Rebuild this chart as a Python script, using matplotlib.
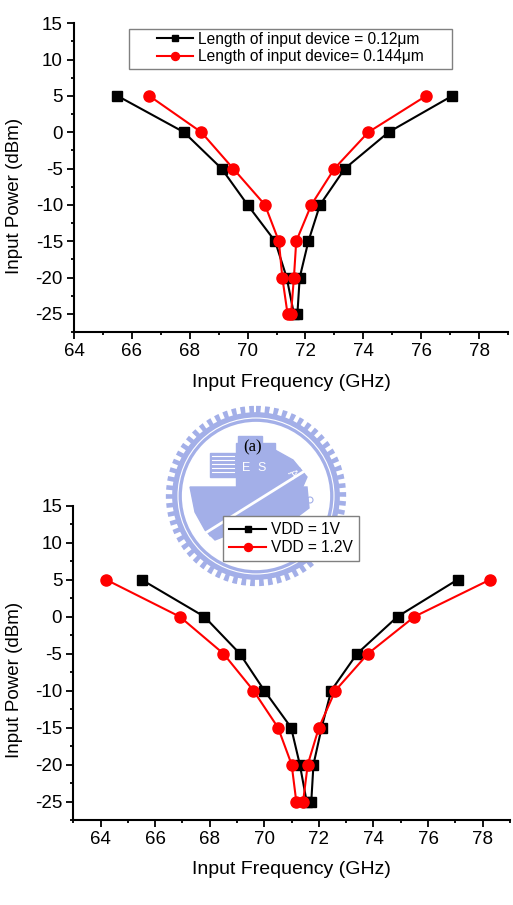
import matplotlib.pyplot as plt
import matplotlib.patches as mpatches
from matplotlib.ticker import MultipleLocator

plt.rcParams['font.family'] = ['Liberation Sans', 'DejaVu Sans']
plt.rcParams['axes.unicode_minus'] = False

# input power sweep (dBm), down one side of the V and back up the other
power = [5, 0, -5, -10, -15, -20, -25, -25, -20, -15, -10, -5, 0, 5]

# (a) input device length
freq_len_012 = [65.5, 67.8, 69.1, 70.0, 70.95, 71.35, 71.6, 71.72, 71.8, 72.1, 72.5, 73.36, 74.87, 77.07]
freq_len_0144 = [66.6, 68.4, 69.5, 70.6, 71.08, 71.2, 71.38, 71.5, 71.6, 71.68, 72.2, 73.0, 74.17, 76.17]
labels_len = ['Length of input device = 0.12\u03bcm', 'Length of input device= 0.144\u03bcm']

# (b) supply voltage
freq_vdd_1 = [65.5, 67.8, 69.1, 70.0, 70.98, 71.3, 71.55, 71.72, 71.8, 72.1, 72.45, 73.4, 74.88, 77.08]
freq_vdd_12 = [64.2, 66.9, 68.5, 69.6, 70.5, 71.0, 71.17, 71.42, 71.59, 72.0, 72.6, 73.8, 75.5, 78.27]
labels_vdd = ['VDD = 1V', 'VDD = 1.2V']

logo_blue = '#a3afe8'

fig = plt.figure(figsize=(5.13, 9.05), dpi=100)

# faint logo watermark between the panels (pixel coords)
bg = fig.add_axes([0, 0, 1, 1], zorder=0)
bg.set_xlim(0, 513)
bg.set_ylim(905, 0)
bg.axis('off')
cx, cy = 256, 496
bg.add_patch(mpatches.Circle((cx, cy), 86, fill=False, lw=6, color=logo_blue,
                             linestyle=(0, (0.55, 0.5))))
bg.add_patch(mpatches.Circle((cx, cy), 79, fill=False, lw=7, color=logo_blue))
bg.add_patch(mpatches.Circle((cx, cy), 78, fill=False, lw=0.8, color='white'))
bg.add_patch(mpatches.Rectangle((210, 453), 26, 24, color=logo_blue))
for yy in range(456, 476, 4):
    bg.plot([212, 234], [yy, yy], color='white', lw=0.8)
bg.add_patch(mpatches.Rectangle((236, 443), 39, 44, color=logo_blue))
bg.add_patch(mpatches.Rectangle((238, 436), 24, 10, color=logo_blue))
bg.add_patch(mpatches.Polygon([(275, 450), (293, 460), (307, 477), (297, 500), (275, 500)],
                              color=logo_blue))
bg.add_patch(mpatches.Polygon([(190, 487), (307, 487), (309, 508), (293, 520), (250, 526),
                               (215, 540), (205, 530), (195, 512)], color=logo_blue))
bg.plot([207, 303], [532, 472], color=logo_blue, lw=8, solid_capstyle='butt')
bg.plot([207, 303], [532, 472], color='white', lw=2)
bg.text(246, 468, 'E', color='white', fontsize=9, ha='center', va='center')
bg.text(262, 468, 'S', color='white', fontsize=9, ha='center', va='center')
bg.text(292, 474, 'A', color='white', fontsize=9, ha='center', va='center', rotation=-50)
bg.add_patch(mpatches.Circle((310, 500), 3, fill=False, lw=0.8, color=logo_blue))
bg.text(253, 447, '(a)', fontsize=12, family='Liberation Serif', ha='center', va='center')


def style_axes(ax, xmin, xlab_y):
    ax.patch.set_alpha(0)
    ax.set_xlim(xmin, 79)
    ax.set_ylim(-27.5, 15)
    ax.spines['top'].set_visible(False)
    ax.spines['right'].set_visible(False)
    for s in ('left', 'bottom'):
        ax.spines[s].set_linewidth(1.5)
    ax.xaxis.set_major_locator(MultipleLocator(2))
    ax.xaxis.set_minor_locator(MultipleLocator(1))
    ax.yaxis.set_major_locator(MultipleLocator(5))
    ax.yaxis.set_minor_locator(MultipleLocator(2.5))
    ax.set_xticks(range(64, 79, 2))
    ax.tick_params(which='major', length=5, width=1.3, labelsize=13.5, pad=3)
    ax.tick_params(which='minor', length=2.5, width=1.3)
    ax.set_xlabel('Input Frequency (GHz)', fontsize=14)
    ax.set_ylabel('Input Power (dBm)', fontsize=13.5)
    ax.xaxis.set_label_coords(0.5, xlab_y)


def draw(ax, f_black, f_red, labels):
    ax.plot(f_black, power, color='black', lw=1.5, marker='s', ms=6.5, label=labels[0])
    ax.plot(f_red, power, color='#ff0000', lw=1.5, marker='o', ms=8, label=labels[1])


leg_kw = dict(fontsize=11.2, markerscale=0.72, handlelength=2.35, handletextpad=0.3,
              labelspacing=0.17, borderaxespad=0, loc='upper left')

ax1 = fig.add_axes([0.1443, 0.633, 0.846, 0.3414], zorder=1)
style_axes(ax1, 64, -0.135)
draw(ax1, freq_len_012, freq_len_0144, labels_len)
ax1.yaxis.set_label_coords(-0.117, 0.44)
# wide Origin-style legend box, drawn separately
ax1.add_patch(mpatches.Rectangle((0.1267, 0.851), 0.744, 0.13, transform=ax1.transAxes,
                                 facecolor='white', edgecolor='#808080', lw=1, zorder=4))
ax1.legend(bbox_to_anchor=(0.191, 0.973), frameon=False, borderpad=0, **leg_kw)

ax2 = fig.add_axes([0.143, 0.0939, 0.851, 0.3473], zorder=1)
style_axes(ax2, 63, -0.13)
draw(ax2, freq_vdd_1, freq_vdd_12, labels_vdd)
ax2.yaxis.set_label_coords(-0.115, 0.446)
leg = ax2.legend(bbox_to_anchor=(0.343, 0.967), fancybox=False, edgecolor='#808080',
                 framealpha=1, borderpad=0.4, **leg_kw)
leg.get_frame().set_linewidth(1)

fig.savefig('out.png', dpi=100)
